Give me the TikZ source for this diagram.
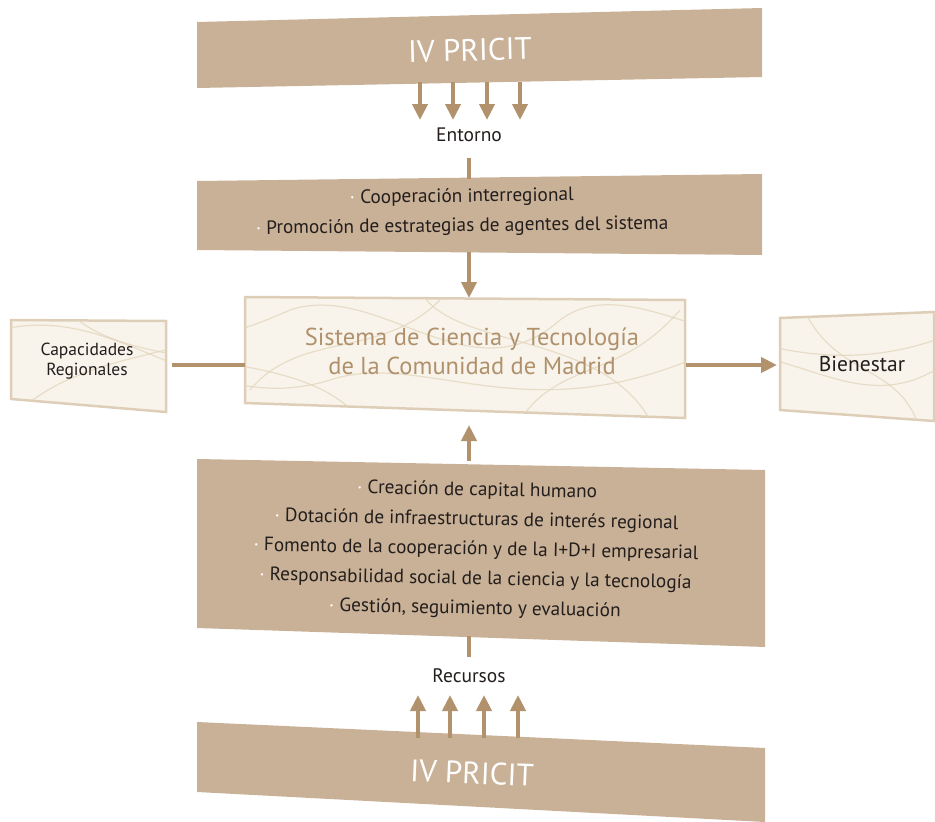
\documentclass[tikz,border=0pt]{standalone}
\usepackage{fontspec}
\setmainfont{PT Sans}
\usetikzlibrary{arrows.meta,positioning,calc}
\definecolor{tan}{RGB}{201,177,152}
\definecolor{flechac}{RGB}{178,146,108}
\definecolor{crema}{RGB}{248,244,236}
\definecolor{borde}{RGB}{222,206,184}
\definecolor{vena}{RGB}{228,214,190}
\definecolor{tinta}{RGB}{35,30,28}
\definecolor{titc}{RGB}{176,145,108}
\newcommand{\pt}{\textcolor{white}{\textperiodcentered}\ }
\tikzset{
  banda/.style={fill=tan,draw=none},
  marmol/.style={fill=crema,draw=borde,line width=2.5pt},
  venas/.style={draw=vena,line width=1.2pt,opacity=0.8},
  flecha/.style={draw=flechac,line width=4.5pt,-{Triangle[width=15pt,length=16pt]}},
  linea/.style={draw=flechac,line width=4.5pt},
  pricit/.style={font=\fontsize{31}{34}\selectfont,text=white},
  lista/.style={font=\fontsize{19.3}{29.6}\selectfont,text=tinta,align=center},
  etiq/.style={font=\fontsize{19.5}{22}\selectfont,text=tinta,align=center},
}
\begin{document}
\begin{tikzpicture}[x=1pt,y=-1pt]
  \useasboundingbox (0,0) rectangle (935,822);
  % bandas y cajas
  \fill[banda] (197,22) -- (762,8) -- (762,77) -- (197,88) -- cycle;
  \fill[banda] (197,181) -- (762,174) -- (762,255) -- (197,250) -- cycle;
  \fill[banda] (197,459) -- (765,470) -- (765,647) -- (197,628) -- cycle;
  \fill[banda] (197,722) -- (765,748) -- (765,822) -- (197,792) -- cycle;
  \foreach \caja in {{(245,297) -- (685,300) -- (685,418) -- (245,403)},
                     {(11,320) -- (166,321) -- (166,412) -- (11,399)},
                     {(780,318) -- (934,312) -- (934,421) -- (780,410)}}{
    \draw[marmol] \caja -- cycle;
    \begin{scope}
      \clip \caja -- cycle;
      \draw[venas] (0,330) .. controls (120,300) and (200,420) .. (330,380)
        .. controls (420,350) and (520,430) .. (690,360)
        .. controls (780,330) and (850,420) .. (935,370);
      \draw[venas] (20,410) .. controls (90,350) and (180,360) .. (290,310)
        .. controls (380,280) and (470,400) .. (560,320)
        .. controls (640,260) and (760,400) .. (935,340);
      \draw[venas] (60,300) .. controls (110,380) and (300,340) .. (360,420);
      \draw[venas] (420,290) .. controls (450,350) and (600,330) .. (650,420);
      \draw[venas] (250,390) .. controls (300,330) and (380,360) .. (440,300);
      \draw[venas] (520,420) .. controls (560,360) and (620,380) .. (680,310);
      \draw[venas] (800,300) .. controls (830,380) and (900,360) .. (920,430);
    \end{scope}
  }
  % textos
  \node[pricit,rotate=1.4] (arriba) at (470,50) {IV PRICIT};
  \node[etiq] (entorno) at (469,135) {Entorno};
  \node[lista,rotate=0.7] (externas) at (462,212)
    {\pt Cooperación interregional\\ \pt Promoción de estrategias de agentes del sistema};
  \node[font=\fontsize{24.5}{29}\selectfont,text=titc,align=center] (sistema) at (472,351)
    {Sistema de Ciencia y Tecnología\\de la Comunidad de Madrid};
  \node[etiq,font=\fontsize{17.5}{20}\selectfont] (capac) at (87,361) {Capacidades\\Regionales};
  \node[etiq,font=\fontsize{21.5}{24}\selectfont] (bien) at (862,364) {Bienestar};
  \node[lista,rotate=-1.1] (medidas) at (476,550)
    {\pt Creación de capital humano\\
     \pt Dotación de infraestructuras de interés regional\\
     \pt Fomento de la cooperación y de la I+D+I empresarial\\
     \pt Responsabilidad social de la ciencia y la tecnología\\
     \pt Gestión, seguimiento y evaluación};
  \node[etiq] (recursos) at (469,676) {Recursos};
  \node[pricit,rotate=-2.4] (abajo) at (472,773) {IV PRICIT};
  % puntos de union
  \coordinate (entS) at (469,158);
  \coordinate (extN) at (469,179);
  \coordinate (extS) at (469,252);
  \coordinate (sisN) at (469,298);
  \coordinate (sisS) at (469,425);
  \coordinate (sisW) at (245,365);
  \coordinate (sisE) at (686,365);
  \coordinate (capE) at (172,365);
  \coordinate (bienW) at (777,365);
  \coordinate (medN) at (469,461);
  \coordinate (medS) at (469,636);
  \coordinate (recN) at (469,657);
  % conectores
  \foreach \x in {420,453,487,520}{
    \coordinate (s\x) at (\x,82);
    \coordinate (e\x) at (\x,120);
    \draw[flecha] (s\x) -- (e\x);
  }
  \draw[linea] (entS) -- (extN);
  \draw[flecha] (extS) -- (sisN);
  \draw[linea] (capE) -- (sisW);
  \draw[flecha] (sisE) -- (bienW);
  \draw[flecha] (medN) -- (sisS);
  \draw[linea] (medS) -- (recN);
  \foreach \x in {418,450,484,518}{
    \coordinate (b\x) at (\x,738);
    \coordinate (t\x) at (\x,695);
    \draw[flecha] (b\x) -- (t\x);
  }
\end{tikzpicture}
\end{document}
